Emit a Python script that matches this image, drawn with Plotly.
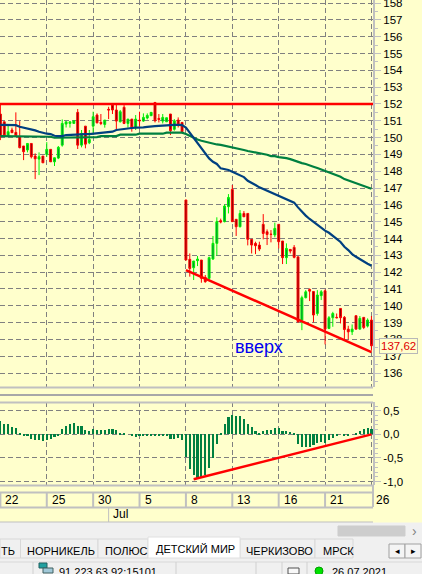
import plotly.graph_objects as go

# ---------- data ----------
opens = [151.40,150.94,150.11,150.45,150.31,150.05,149.50,149.26,149.65,148.90,
         148.72,148.90,149.00,149.30,148.56,148.78,149.55,150.80,150.84,150.84,
         151.50,149.55,150.68,149.69,150.68,151.34,150.90,150.78,151.68,151.93,
         151.64,150.94,151.80,150.84,151.10,150.59,151.04,150.98,151.16,151.30,
         152.09,151.14,150.98,150.94,151.40,150.49,151.04,150.90,
         146.29,142.76,142.26,142.68,142.72,141.69,141.63,142.78,143.71,145.06,
         145.00,145.89,146.92,145.14,144.70,145.49,145.49,143.95,143.71,143.61,
         144.84,144.40,144.26,144.21,144.84,143.85,142.86,143.35,143.47,142.91,
         139.15,140.48,140.97,140.85,139.54,140.60,140.89,138.65,139.29,139.31,
         139.84,139.31,138.61,138.45,139.41,138.61,139.31,138.79,139.15]
closes = [150.05,150.11,150.35,150.29,150.11,149.40,149.16,149.65,148.86,148.74,
          148.86,148.50,149.30,148.56,148.80,149.42,150.84,150.94,150.94,151.00,
          149.55,150.25,149.61,149.89,151.24,150.88,150.84,151.04,151.64,151.64,
          150.98,151.54,150.84,151.10,150.59,151.10,151.00,151.20,151.32,151.50,
          151.00,151.08,151.20,151.18,150.41,151.00,150.74,150.35,
          142.72,142.22,142.66,142.78,141.63,141.43,142.86,143.71,145.00,144.98,
          145.93,146.44,145.00,144.70,145.49,145.29,143.95,143.61,143.57,143.37,
          144.30,144.24,144.24,144.60,143.81,142.86,143.41,143.25,142.88,139.05,
          140.48,140.83,140.87,139.45,140.64,140.83,138.61,139.29,139.54,139.29,
          139.29,138.59,138.45,138.61,138.61,139.25,138.71,139.15,137.62]
highs = [152.03,150.94,150.74,150.59,151.50,150.98,149.50,149.65,149.65,149.06,
         149.12,148.90,149.73,149.30,148.80,149.50,151.08,150.94,150.94,151.00,
         151.70,150.45,150.68,150.45,151.54,151.44,151.40,151.04,151.83,151.99,
         151.99,151.64,151.93,151.10,151.10,151.34,151.54,151.44,151.44,151.50,
         152.09,151.40,151.40,151.18,151.40,151.10,151.20,150.90,
         146.29,143.11,142.66,142.96,142.72,141.83,142.92,144.15,145.26,145.18,
         146.03,146.64,147.18,145.14,145.69,145.63,145.49,143.95,143.81,143.81,
         145.45,144.54,144.50,144.94,144.84,143.85,143.71,143.35,143.61,142.91,
         140.60,140.93,141.03,140.85,140.93,140.93,140.97,139.39,139.64,139.54,
         139.84,139.39,138.81,138.89,139.41,139.39,139.31,139.25,139.39]
lows = [149.85,150.11,150.11,150.29,150.11,149.36,148.66,149.12,148.76,147.53,
        147.77,148.50,148.86,148.56,148.31,148.72,149.46,150.60,150.59,150.84,
        149.32,149.42,149.36,149.61,150.15,150.84,150.74,150.59,151.10,151.40,
        150.45,150.90,150.80,150.59,150.35,150.45,150.64,150.94,151.08,151.30,
        150.90,150.90,150.84,150.94,150.15,150.41,150.60,150.25,
        142.72,141.73,141.53,142.36,141.37,141.37,141.53,142.72,142.98,144.90,
        144.96,145.49,145.00,144.15,144.66,145.29,143.59,143.11,143.07,143.25,
        143.95,143.61,143.77,144.07,143.41,142.48,142.48,143.11,142.82,138.99,
        138.55,140.44,140.28,139.01,139.41,140.34,137.70,138.61,138.75,139.25,
        138.95,138.00,138.00,138.26,138.61,138.61,138.61,138.71,137.33]
ma_fast = [150.76,150.76,150.76,150.76,150.74,150.64,150.59,150.57,150.49,150.43,
           150.35,150.27,150.23,150.21,150.11,150.09,150.09,150.15,150.17,150.19,
           150.21,150.21,150.21,150.21,150.23,150.29,150.29,150.33,150.35,150.35,
           150.45,150.49,150.51,150.55,150.57,150.59,150.59,150.61,150.64,150.64,
           150.68,150.70,150.72,150.76,150.76,150.76,150.76,150.74,
           150.59,150.29,149.95,149.65,149.36,149.06,148.76,148.56,148.43,148.17,
           148.13,148.07,147.97,147.87,147.73,147.65,147.43,147.28,147.18,147.04,
           146.94,146.86,146.76,146.66,146.56,146.44,146.34,146.25,146.13,145.85,
           145.57,145.36,145.16,144.98,144.80,144.62,144.47,144.34,144.18,143.98,
           143.79,143.51,143.31,143.07,142.91,142.76,142.62,142.50,142.38]
ma_slow = [150.09,150.09,150.09,150.09,150.09,150.09,150.09,150.09,150.09,150.09,
           150.05,150.05,150.05,150.05,149.99,149.99,149.99,150.03,150.03,150.03,
           150.03,150.03,150.03,150.03,150.03,150.03,150.09,150.09,150.09,150.09,
           150.09,150.17,150.17,150.17,150.17,150.17,150.23,150.23,150.23,150.23,
           150.23,150.23,150.23,150.29,150.29,150.29,150.29,150.29,
           150.21,150.09,149.97,149.89,149.81,149.75,149.71,149.65,149.59,149.57,
           149.52,149.46,149.44,149.40,149.34,149.26,149.20,149.16,149.14,149.10,
           149.04,148.98,148.90,148.90,148.84,148.82,148.78,148.72,148.64,148.52,
           148.48,148.43,148.33,148.27,148.19,148.11,148.01,147.93,147.85,147.77,
           147.67,147.53,147.45,147.37,147.28,147.20,147.12,147.04,146.96]
oscillator = [0.28,0.23,0.21,0.16,0.13,0.04,-0.035,-0.04,-0.09,-0.11,
              -0.12,-0.13,-0.11,-0.09,-0.06,-0.035,0.11,0.18,0.23,0.24,
              0.18,0.18,0.09,0.08,0.11,0.09,0.09,0.09,0.11,0.11,
              0.09,0.04,0.035,0.0,-0.03,-0.06,-0.03,-0.03,-0.035,-0.015,
              -0.03,-0.03,-0.015,-0.04,-0.09,-0.09,-0.08,-0.12,
              -0.48,-0.73,-0.86,-0.92,-0.90,-0.86,-0.71,-0.51,-0.21,0.02,
              0.22,0.37,0.41,0.40,0.39,0.32,0.23,0.155,0.08,0.04,
              0.07,0.085,0.09,0.13,0.13,0.08,0.08,0.055,0.035,-0.21,
              -0.275,-0.26,-0.26,-0.225,-0.19,-0.155,-0.19,-0.12,-0.085,-0.03,
              0.0,-0.02,-0.03,0.0,0.04,0.07,0.105,0.14,0.105]
bars = list(range(len(closes)))

resistance_x = [-1, 97]
resistance_y = [152, 152]
support_x = [48, 96]
support_y = [142.12, 137.25]
osc_trend_x = [50, 96]
osc_trend_y = [-0.95, 0.0]

date_ticks = [0, 12, 24, 36, 48, 60, 72, 84, 96]
date_labels = ["22", "25", "30", "5", "8", "13", "16", "21", "26"]
month_tick = 28
month_label = "Jul"
price_ticks = list(range(136, 159))
osc_ticks = [0.5, 0.0, -0.5, -1.0]
osc_labels = ["0,5", "0,0", "-0,5", "-1,0"]
last_price_label = "137,62"
note_text = "вверх"
tabs = [("ТЬ", 0), ("НОРНИКЕЛЬ", 26), ("ПОЛЮС", 104), ("ЧЕРКИЗОВО", 245), ("МРСК", 322)]
active_tab = "ДЕТСКИЙ МИР"
server_text = "91.223.63.92:15101"
date_text = "26.07.2021"

# ---------- styling ----------
W, H = 422, 574
YELLOW = "#FFFFCC"
PANEL = "#F0F0F0"
EDGE = "#C0C0C0"
GRID = "#808080"
FONT = "Liberation Sans"
def px(x): return x / W
def py(y): return 1 - y / H

fig = go.Figure()
fig.add_trace(go.Candlestick(
    x=bars, open=opens, high=highs, low=lows, close=closes,
    increasing=dict(line=dict(color="#00F000", width=1), fillcolor="#008040"),
    decreasing=dict(line=dict(color="#FF0000", width=1), fillcolor="#800000"),
    whiskerwidth=0, showlegend=False, hoverinfo="skip", xaxis="x", yaxis="y"))
fig.add_trace(go.Scatter(x=bars, y=ma_slow, mode="lines", line=dict(color="#008040", width=2.2),
                         showlegend=False, xaxis="x", yaxis="y"))
fig.add_trace(go.Scatter(x=bars, y=ma_fast, mode="lines", line=dict(color="#004080", width=2.2),
                         showlegend=False, xaxis="x", yaxis="y"))
fig.add_trace(go.Scatter(x=resistance_x, y=resistance_y, mode="lines", line=dict(color="#FF0000", width=2.5),
                         showlegend=False, xaxis="x", yaxis="y"))
fig.add_trace(go.Scatter(x=support_x, y=support_y, mode="lines", line=dict(color="#FF0000", width=2.5),
                         showlegend=False, xaxis="x", yaxis="y"))
fig.add_trace(go.Bar(x=bars, y=oscillator, marker=dict(color="#008040", line=dict(width=0)), width=0.55,
                     showlegend=False, xaxis="x2", yaxis="y2"))
fig.add_trace(go.Scatter(x=osc_trend_x, y=osc_trend_y, mode="lines", line=dict(color="#FF0000", width=2.5),
                         showlegend=False, xaxis="x2", yaxis="y2"))

xrange = [-0.1, 96.4]
common_x = dict(range=xrange, domain=[0, 373 / W], tickmode="array", tickvals=date_ticks,
                showticklabels=False, ticks="", showgrid=True, gridcolor=GRID, griddash="5px,3px",
                gridwidth=1, zeroline=False, showline=False, rangeslider=dict(visible=False))
common_y = dict(side="right", showgrid=True, gridcolor=GRID, griddash="5px,3px", gridwidth=1,
                zeroline=False, showline=True, linecolor=EDGE, linewidth=2, ticks="outside",
                ticklen=6, tickwidth=1, tickcolor=EDGE, ticklabeloverflow="allow",
                tickfont=dict(family=FONT, size=11.5, color="#000000"))

shapes = []
def hline(y, x0=0, x1=373, color=EDGE, width=2):
    shapes.append(dict(type="line", xref="paper", yref="paper", x0=px(x0), x1=px(x1),
                       y0=py(y), y1=py(y), line=dict(color=color, width=width), layer="above"))
def vline(x, y0, y1, color=EDGE, width=1):
    shapes.append(dict(type="line", xref="paper", yref="paper", x0=px(x), x1=px(x),
                       y0=py(y0), y1=py(y1), line=dict(color=color, width=width), layer="above"))
def rect(x0, y0, x1, y1, fill, line=None):
    shapes.append(dict(type="rect", xref="paper", yref="paper", x0=px(x0), x1=px(x1),
                       y0=py(y0), y1=py(y1), fillcolor=fill, layer="above",
                       line=dict(color=line or fill, width=1)))

hline(387.5); hline(395, color="#A8A8A8"); hline(402.5); hline(485.5)
hline(492.5); hline(507.5); hline(522.5)
for t in date_ticks[:-1]:
    shapes.append(dict(type="line", xref="x", yref="paper", x0=t, x1=t, y0=py(492), y1=py(507),
                       line=dict(color=EDGE, width=2), layer="above"))
shapes.append(dict(type="line", xref="x", yref="paper", x0=month_tick, x1=month_tick, y0=py(507), y1=py(522),
                   line=dict(color=EDGE, width=1), layer="above"))
vline(373, 485, 492, width=2); vline(373, 492, 507, width=2)

# application chrome below the chart
rect(0, 523, W, H, PANEL)
rect(338, 526, 405, 536, "#CDCDCD")
for a, b in [(0, 20.5), (20.5, 98), (98, 148), (240, 315), (315, 353)]:
    rect(a, 539, b, 558, PANEL, "#D8D8D8")
rect(148, 537, 240, 558, "#FFFFFF", "#E0E0E0")
rect(389, 544, 405, 558, "#F4F4F4", "#A0A0A0")
rect(405, 544, 421, 558, "#F4F4F4", "#A0A0A0")
hline(562, 0, W, "#D8D8D8", 1)
for sx in [33, 176, 256, 282, 307]:
    vline(sx, 562, H, "#D0D0D0", 1)
rect(39, 563, 47, 568, "#20A0A0", "#206060")
rect(43, 568, 53, 573, "#A0C8D8", "#406060")
rect(288, 568, 299, 574, "#F8F8F8", "#505050")
shapes.append(dict(type="circle", xref="paper", yref="paper", x0=px(315), x1=px(323), y0=py(575), y1=py(567),
                   fillcolor="#00E000", line=dict(color="#00A000", width=1), layer="above"))

ann = []
def text(x, y, s, size=12, color="#000000", anchor="left", **kw):
    ann.append(dict(xref="paper", yref="paper", x=px(x), y=py(y), text=s, showarrow=False, xanchor=anchor,
                    yanchor="middle", font=dict(family=FONT, size=size, color=color), borderpad=0, **kw))
for t, lab in zip(date_ticks, date_labels):
    ann.append(dict(xref="x", yref="paper", x=t, y=py(500), text=lab, showarrow=False, xanchor="left",
                    yanchor="middle", xshift=4, borderpad=0, font=dict(family=FONT, size=12, color="#000000")))
ann.append(dict(xref="x", yref="paper", x=month_tick, y=py(514), text=month_label, showarrow=False, xanchor="left",
                yanchor="middle", xshift=3, borderpad=0, font=dict(family=FONT, size=12, color="#000000")))
text(234, 346.5, note_text, size=18, color="#0000F0")
ann.append(dict(xref="paper", yref="paper", x=px(379), y=py(345.5), text=last_price_label, showarrow=False,
                xanchor="left", yanchor="middle", font=dict(family=FONT, size=11.5, color="#E00000"),
                bgcolor=YELLOW, bordercolor="#B8B8B8", borderwidth=1, borderpad=1))
for s, x in tabs:
    text(x, 551, s, size=11)
text(155, 549, active_tab, size=11)
text(58, 572, server_text, size=11)
text(331, 572, date_text, size=11)
text(414, 531, "›", size=14, color="#808080", anchor="center")
text(397, 551, "◂", size=9, anchor="center")
text(413, 551, "▸", size=9, anchor="center")

fig.update_layout(
    width=W, height=H, autosize=False, margin=dict(l=0, r=0, t=0, b=0, pad=0, autoexpand=False),
    paper_bgcolor=YELLOW, plot_bgcolor=YELLOW, bargap=0, boxgap=0.3, showlegend=False,
    hovermode=False, dragmode=False,
    font=dict(family=FONT),
    xaxis=dict(anchor="y", **common_x),
    xaxis2=dict(anchor="y2", matches="x", **common_x),
    yaxis=dict(anchor="x", domain=[py(387), 1], range=[135.17, 158.18], tickmode="array", tickvals=price_ticks,
               minor=dict(dtick=0.5, tick0=0, ticks="outside", ticklen=3, tickcolor=EDGE, showgrid=False),
               **common_y),
    yaxis2=dict(anchor="x2", domain=[py(485), py(402)], range=[-1.072, 0.686], tickmode="array",
                tickvals=osc_ticks, ticktext=osc_labels,
                minor=dict(dtick=0.1, tick0=0, ticks="outside", ticklen=3, tickcolor=EDGE, showgrid=False),
                **common_y),
    shapes=shapes, annotations=ann,
)
fig.write_html("out.html", config=dict(displayModeBar=False, responsive=False),
               post_script="document.body.style.margin='0';document.documentElement.style.overflow='hidden';")
